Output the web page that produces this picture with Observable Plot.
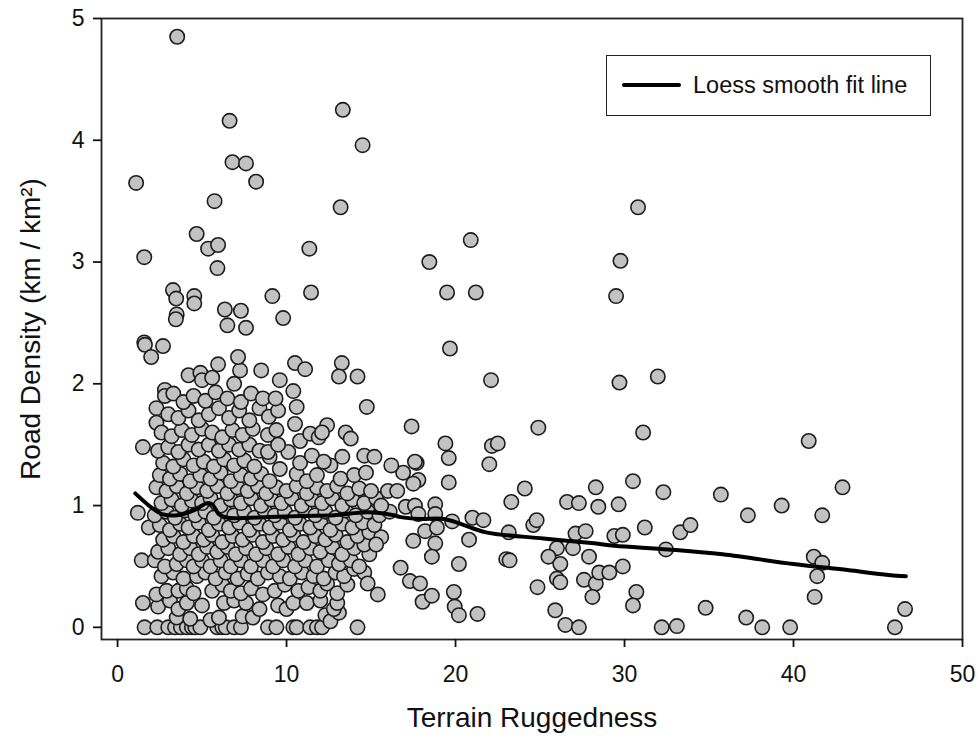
<!DOCTYPE html>
<html>
<head>
<meta charset="utf-8">
<script src="https://cdn.jsdelivr.net/npm/d3@7"></script>
<script src="https://cdn.jsdelivr.net/npm/@observablehq/plot@0.6"></script>
<style>
  body { margin: 0; background: #fff; font-family: "Liberation Sans", Arial, sans-serif; }
  #wrap { position: relative; width: 980px; height: 744px; }
  #legend { position: absolute; left: 606px; top: 55px; width: 325px; height: 61px;
    border: 1.8px solid #222; background: #fff; box-sizing: border-box; }
  #legend .ln { position: absolute; left: 15px; top: 27px; width: 59px; height: 0; border-top: 4px solid #000; border-radius: 2px; }
  #legend .tx { position: absolute; left: 86px; top: 15px; font-size: 23.5px; line-height: 28px; color: #111; white-space: nowrap; }
</style>
</head>
<body>
<div id="wrap"><div id="legend"><div class="ln"></div><div class="tx"></div></div></div>
<script>
// ---- data ----
const xTicks = [0, 10, 20, 30, 40, 50];
const yTicks = [0, 1, 2, 3, 4, 5];
const xLabel = "Terrain Ruggedness";
const yLabel = "Road Density (km / km²)";
const legendLabel = "Loess smooth fit line";

// high outliers
const outliers = [
  [3.53,4.85],[6.63,4.16],[13.33,4.25],[14.5,3.96],[6.8,3.82],[7.6,3.81],[1.1,3.65],[8.2,3.66],
  [5.74,3.50],[13.2,3.45],[30.8,3.45],[1.58,3.04],[4.68,3.23],[5.36,3.11],[5.95,3.14],[5.91,2.95],
  [11.35,3.11],[20.9,3.18],[18.45,3.0],[29.76,3.01],[3.28,2.77],[3.47,2.70],[4.54,2.72],[4.54,2.66],
  [3.5,2.57],[3.45,2.53],[6.35,2.61],[6.5,2.48],[7.3,2.60],[7.6,2.46],[9.16,2.72],[9.8,2.54],
  [11.45,2.75],[19.5,2.75],[21.2,2.75],[29.5,2.72],[19.67,2.29],[1.58,2.34],[1.62,2.32],[2.69,2.31],
  [1.99,2.22],[7.13,2.22],[5.95,2.16],[10.5,2.17],[11.1,2.12],[13.27,2.17],[14.2,2.06],[13.1,2.06],
  [22.1,2.03],[29.7,2.01],[31.97,2.06],[14.75,1.81]
];

// right-hand sparse points
const sparse = [
  [17.4,1.65],[24.9,1.64],[31.1,1.60],[40.9,1.53],[19.4,1.51],[22.15,1.49],[22.5,1.51],[17.7,1.35],
  [19.6,1.39],[22.0,1.34],[16.9,1.27],[19.6,1.19],[17.8,1.21],[17.5,1.18],[24.1,1.14],[30.5,1.20],
  [35.7,1.09],[32.3,1.11],[42.9,1.15],[28.3,1.15],[23.3,1.03],[26.6,1.03],[27.3,1.02],[29.65,1.01],
  [39.3,1.00],[37.3,0.92],[41.7,0.92],[28.45,0.99],[17.06,0.99],[17.6,1.00],[18.8,1.01],[18.8,0.93],
  [17.8,0.93],[18.2,0.79],[18.9,0.82],[17.5,0.71],[18.8,0.69],[18.6,0.58],[19.8,0.87],[20.8,0.72],
  [21.0,0.90],[21.65,0.88],[23.15,0.78],[20.2,0.52],[16.75,0.49],[17.3,0.38],[17.9,0.36],[18.05,0.21],
  [18.6,0.26],[19.9,0.29],[19.95,0.17],[20.2,0.10],[21.3,0.11],[23.0,0.56],[23.2,0.55],[24.6,0.84],
  [24.8,0.88],[24.85,0.33],[25.9,0.14],[26.5,0.02],[27.3,0.0],[26.0,0.65],[25.5,0.58],[26.2,0.52],
  [26.0,0.40],[26.2,0.37],[26.95,0.65],[27.1,0.77],[27.7,0.79],[27.9,0.58],[27.6,0.39],[28.3,0.36],
  [28.1,0.25],[28.5,0.45],[29.1,0.45],[29.4,0.75],[29.9,0.76],[29.9,0.50],[31.2,0.82],[30.7,0.29],
  [30.5,0.18],[32.2,0.0],[33.1,0.01],[32.45,0.64],[33.3,0.78],[33.9,0.84],[34.8,0.16],[37.2,0.08],
  [38.15,0.0],[39.8,0.0],[41.2,0.58],[41.7,0.53],[41.4,0.42],[41.25,0.25],[46.0,0.0],[46.6,0.15],
  [15.4,0.27],[14.8,0.36],[15.3,0.68],[16.2,1.33],[17.6,1.36],[16.0,1.12],[16.55,1.12],[15.6,1.0]
];

// dense cluster (x 1-16, y 0-2.1)
const cluster = [
  [1.2,0.94],[1.5,1.48],[1.43,0.55],[1.5,0.2],[1.85,0.82],[2.3,1.80],[2.3,1.68],[2.8,1.95],[2.8,1.90],
  [1.6,0],[2.35,0],[3.0,0],[3.4,0],[3.75,0],[4.1,0],[4.4,0],[4.6,0],[4.9,0],[5.9,0],[6.2,0],[6.4,0],
  [6.9,0],[7.3,0],[8.9,0],[9.4,0],[10.4,0],[10.6,0],[11.4,0],[11.8,0],[12.1,0],[14.2,0],
  [3.5,0.08],[4.3,0.07],[5.5,0.06],[6.0,0.08],[7.4,0.09],[8.0,0.08],[12.3,0.1],[12.6,0.05],[13.1,0.12],
  [2.4,0.17],[3.1,0.22],[3.6,0.15],[4.1,0.2],[5.0,0.18],[6.3,0.2],[6.9,0.22],[7.6,0.2],[8.4,0.15],
  [9.5,0.18],[10.0,0.15],[10.4,0.2],[11.2,0.2],[12.0,0.22],[12.8,0.15],[13.0,0.2],
  [2.3,0.27],[2.9,0.3],[3.6,0.3],[4.1,0.32],[4.5,0.28],[5.6,0.3],[6.2,0.35],[6.7,0.3],[7.3,0.28],
  [7.9,0.32],[8.6,0.27],[9.3,0.3],[9.9,0.35],[10.7,0.3],[11.3,0.33],[12.0,0.3],[12.4,0.36],[13.0,0.28],[13.6,0.35],
  [2.6,0.42],[3.3,0.45],[3.9,0.4],[4.7,0.42],[5.2,0.45],[5.8,0.4],[6.4,0.45],[7.1,0.4],[7.7,0.44],
  [8.3,0.4],[8.9,0.45],[9.6,0.42],[10.2,0.4],[10.9,0.45],[11.6,0.42],[12.2,0.4],[12.9,0.45],[13.4,0.42],[14.0,0.48],[14.6,0.45],
  [2.2,0.55],[2.8,0.5],[3.5,0.52],[4.1,0.55],[4.5,0.5],[5.0,0.55],[5.5,0.5],[6.1,0.55],[6.7,0.5],
  [7.3,0.55],[7.9,0.5],[8.6,0.55],[9.2,0.5],[9.8,0.55],[10.5,0.5],[11.1,0.55],[11.8,0.5],[12.5,0.55],
  [13.1,0.52],[13.8,0.55],[14.3,0.5],[14.9,0.6],
  [2.4,0.62],[3.0,0.65],[3.7,0.6],[4.3,0.65],[4.8,0.6],[5.3,0.66],[5.9,0.62],[6.5,0.66],[7.0,0.6],
  [7.6,0.65],[8.2,0.6],[8.8,0.65],[9.5,0.6],[10.1,0.66],[10.7,0.6],[11.4,0.65],[12.0,0.62],[12.7,0.66],
  [13.3,0.6],[14.0,0.65],[14.6,0.68],
  [2.7,0.72],[3.3,0.75],[3.9,0.7],[4.5,0.75],[5.1,0.72],[5.6,0.76],[6.2,0.7],[6.8,0.75],[7.4,0.72],
  [8.0,0.76],[8.6,0.7],[9.2,0.75],[9.8,0.72],[10.4,0.76],[11.0,0.7],[11.7,0.75],[12.3,0.72],[12.9,0.76],
  [13.6,0.7],[14.2,0.75],[14.9,0.78],[15.6,0.74],
  [2.5,0.84],[3.1,0.8],[3.7,0.85],[4.2,0.82],[4.8,0.86],[5.4,0.8],[6.0,0.85],[6.6,0.82],[7.2,0.86],
  [7.8,0.8],[8.4,0.85],[9.0,0.82],[9.6,0.86],[10.2,0.8],[10.8,0.85],[11.4,0.82],[12.0,0.86],[12.6,0.8],
  [13.3,0.85],[13.9,0.82],[14.5,0.86],[15.2,0.84],
  [2.2,0.92],[2.9,0.95],[3.4,0.9],[4.0,0.96],[4.6,0.92],[5.2,0.95],[5.7,0.9],[6.3,0.96],[6.9,0.92],
  [7.5,0.95],[8.1,0.9],[8.7,0.96],[9.3,0.92],[9.9,0.95],[10.5,0.9],[11.1,0.96],[11.7,0.92],[12.3,0.95],
  [12.9,0.9],[13.5,0.96],[14.1,0.92],[14.8,0.95],[15.5,0.92],[16.1,0.95],
  [2.6,1.02],[3.2,1.05],[3.8,1.0],[4.4,1.04],[5.0,1.02],[5.5,1.06],[6.1,1.0],[6.7,1.05],[7.3,1.02],
  [7.9,1.06],[8.5,1.0],[9.1,1.05],[9.7,1.02],[10.3,1.06],[10.9,1.0],[11.5,1.05],[12.1,1.02],[12.7,1.06],
  [13.3,1.0],[13.9,1.05],[14.6,1.02],[15.3,1.06],
  [2.3,1.15],[2.9,1.12],[3.5,1.16],[4.1,1.1],[4.7,1.15],[5.3,1.12],[5.9,1.16],[6.5,1.1],[7.1,1.15],
  [7.7,1.12],[8.3,1.16],[8.8,1.1],[9.4,1.15],[10.0,1.12],[10.6,1.16],[11.2,1.1],[11.8,1.15],[12.4,1.12],
  [13.0,1.16],[13.6,1.1],[14.3,1.14],[15.0,1.12],
  [2.5,1.25],[3.1,1.22],[3.7,1.26],[4.3,1.2],[4.9,1.25],[5.5,1.22],[6.1,1.27],[6.7,1.2],[7.3,1.25],
  [7.9,1.22],[8.5,1.26],[9.0,1.2],[9.6,1.3],[10.6,1.26],[11.2,1.2],[11.8,1.25],[12.6,1.33],[13.2,1.22],
  [14.0,1.25],[14.7,1.27],
  [2.7,1.35],[3.3,1.32],[3.9,1.38],[4.5,1.33],[5.1,1.36],[5.7,1.32],[6.3,1.38],[6.9,1.33],[7.5,1.37],
  [8.1,1.32],[9.0,1.4],[10.1,1.44],[10.8,1.35],[11.5,1.41],[12.2,1.36],[13.3,1.40],[14.6,1.41],[15.2,1.40],
  [2.4,1.45],[3.0,1.48],[3.6,1.44],[4.2,1.5],[4.8,1.46],[5.4,1.5],[6.0,1.45],[6.6,1.5],[7.2,1.46],
  [7.8,1.5],[8.4,1.45],[8.9,1.44],[9.5,1.5],[10.8,1.53],[11.4,1.59],[11.9,1.56],[12.4,1.66],[13.5,1.60],[13.8,1.55],
  [2.6,1.6],[3.2,1.57],[3.8,1.62],[4.4,1.58],[5.0,1.63],[5.6,1.6],[6.2,1.56],[6.8,1.62],[7.4,1.58],
  [8.0,1.63],[8.9,1.58],[9.4,1.62],[10.5,1.67],[12.1,1.6],
  [3.0,1.75],[3.6,1.72],[4.2,1.78],[4.8,1.7],[5.4,1.75],[6.0,1.8],[6.6,1.72],[7.2,1.78],[7.8,1.7],
  [8.4,1.8],[8.95,1.73],[9.5,1.78],[10.6,1.81],
  [3.3,1.92],[3.9,1.85],[4.5,1.9],[5.2,1.86],[5.8,1.93],[6.5,1.88],[7.3,1.85],[7.9,1.92],[8.6,1.88],
  [9.35,1.88],[10.4,1.94],
  [4.2,2.07],[4.9,2.09],[5.0,2.03],[5.6,2.05],[7.25,2.11],[8.5,2.11],[9.6,2.03],[6.9,2.0]
];

// loess fit line
const loessX = [1.05,1.95,2.64,3.53,4.5,5.3,5.6,6.0,6.5,7.9,10.8,12.8,14.8,16.35,16.75,17.85,19.3,20.3,21.8,25.2,28.2,29.4,32.6,35.8,40.0,43.2,45.6,46.65];
const loessY = [1.10,0.99,0.93,0.92,0.96,1.02,1.01,0.93,0.90,0.90,0.915,0.92,0.945,0.92,0.905,0.89,0.89,0.85,0.78,0.73,0.69,0.67,0.64,0.60,0.52,0.47,0.43,0.42];

// ---- build ----
const points = [...cluster, ...sparse, ...outliers].map(([x, y]) => ({x, y}));
const loess = loessX.map((x, i) => ({x, y: loessY[i]}));

const chart = Plot.plot({
  width: 980,
  height: 744,
  marginLeft: 101,
  marginRight: 18,
  marginTop: 18,
  marginBottom: 105,
  style: {fontFamily: "'Liberation Sans', Arial, sans-serif", fontSize: "23px", color: "#111", background: "#fff"},
  x: {domain: [-0.95, 50], label: null},
  y: {domain: [-0.1, 5], label: null},
  marks: [
    Plot.dot(points, {x: "x", y: "y", r: 7.2, fill: "#c2c2c2", stroke: "#1c1c1c", strokeWidth: 1.6}),
    Plot.line(loess, {x: "x", y: "y", stroke: "#000", strokeWidth: 4, curve: "catmull-rom"}),
    Plot.frame({stroke: "#222", strokeWidth: 1.8}),
    Plot.axisX({ticks: xTicks, tickFormat: d3.format("d"), tickSize: 8, tickPadding: 18, fontSize: 23, strokeWidth: 1.8, label: null}),
    Plot.axisY({ticks: yTicks, tickFormat: d3.format("d"), tickSize: 8, tickPadding: 9, fontSize: 23, strokeWidth: 1.8, label: null}),
    Plot.text([xLabel], {frameAnchor: "bottom", dy: 87, fontSize: 28, fill: "#111"}),
    Plot.text([yLabel], {frameAnchor: "left", dx: -70, rotate: -90, textAnchor: "middle", fontSize: 28, fill: "#111"})
  ]
});
document.getElementById("wrap").prepend(chart);
document.querySelector("#legend .tx").textContent = legendLabel;
</script>
</body>
</html>
